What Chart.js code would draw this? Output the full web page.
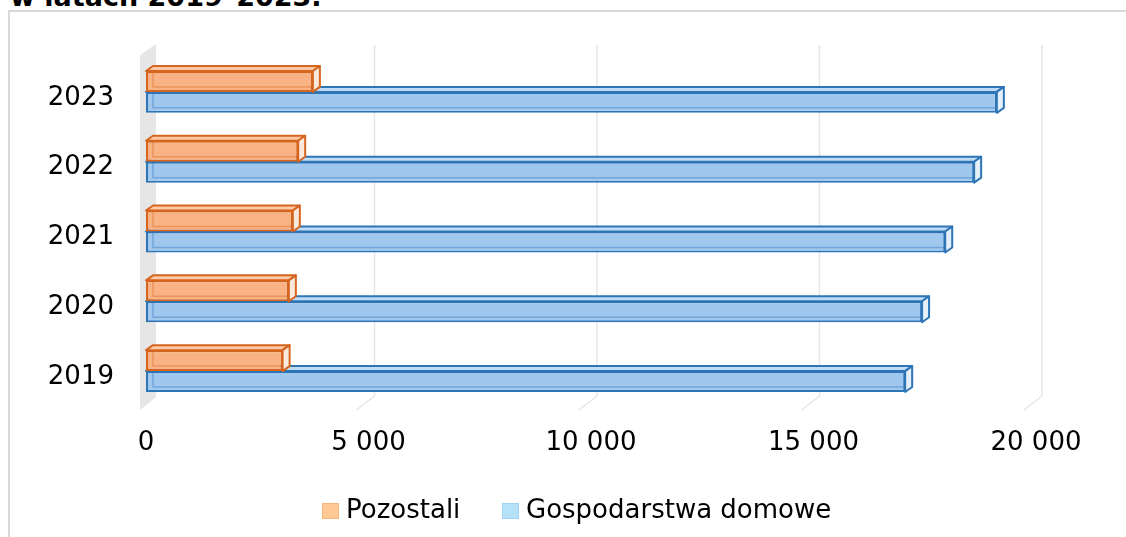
<!DOCTYPE html>
<html>
<head>
<meta charset="utf-8">
<script src="https://cdn.jsdelivr.net/npm/chart.js@4.4.1/dist/chart.umd.min.js"></script>
<style>
  html, body { margin: 0; padding: 0; background: #fff; overflow: hidden; }
  body { width: 1126px; height: 537px; position: relative; font-family: "DejaVu Sans", Verdana, sans-serif; }
  #title { position: absolute; left: 10px; top: -17px; font-size: 27px; line-height: 27px; font-weight: bold; color: #000; white-space: nowrap; }
  #frame { position: absolute; left: 8px; top: 10px; width: 2000px; height: 2000px; border: 2px solid #d9d9d9; }
  #wrap { position: absolute; left: 0; top: 0; width: 1126px; height: 537px; }
  #legend { position: absolute; top: 494px; left: 0; width: 1126px; height: 30px; font-size: 26px; color: #000; }
  .item { position: absolute; top: 0; height: 30px; line-height: 30px; white-space: nowrap; padding-left: 24px; }
  .box { position: absolute; left: 0; top: 9px; width: 15px; height: 14px; border: 1px solid; }
</style>
</head>
<body>
<div id="title">w latach 2019–2023.</div>
<div id="frame"></div>
<div id="wrap"><canvas id="chart" width="1126" height="537"></canvas></div>
<div id="legend"></div>
<script>
const years = ['2019', '2020', '2021', '2022', '2023'];
const pozostali = [3070, 3210, 3300, 3420, 3750];
const gospodarstwa = [17060, 17440, 17960, 18610, 19120];
const xTicks = [0, 5000, 10000, 15000, 20000];

const depthX = 7, depthY = 5;

function fmt(v) {
  return String(v).replace(/\B(?=(\d{3})+(?!\d))/g, ' ');
}

// back wall, floor and grid drawn behind the bars
const backdrop = {
  id: 'backdrop',
  beforeDatasetsDraw(chart) {
    const ctx = chart.ctx;
    const xs = chart.scales.x;
    const area = chart.chartArea;
    ctx.save();
    const x0 = xs.getPixelForValue(0);
    ctx.fillStyle = '#e6e6e6';
    ctx.beginPath();
    ctx.moveTo(x0 - 6, area.top - 2);
    ctx.lineTo(x0 + 10, area.top - 13);
    ctx.lineTo(x0 + 10, area.bottom - 9);
    ctx.lineTo(x0 - 6, area.bottom + 4);
    ctx.closePath();
    ctx.fill();
    ctx.strokeStyle = '#e6e6e6';
    ctx.lineWidth = 1.5;
    xTicks.slice(1).forEach(v => {
      const px = xs.getPixelForValue(v);
      ctx.beginPath();
      ctx.moveTo(px + 6, area.top - 12);
      ctx.lineTo(px + 6, area.bottom - 10);
      ctx.lineTo(px - 12, area.bottom + 4);
      ctx.stroke();
    });
    ctx.restore();
  }
};

// top and side faces for each bar, drawn right after its own dataset
const bars3d = {
  id: 'bars3d',
  afterDatasetDraw(chart, args) {
    const ctx = chart.ctx;
    const ds = chart.data.datasets[args.index];
    ctx.save();
    ctx.lineJoin = 'round';
    args.meta.data.forEach(bar => {
      const {x, y, base, height} = bar.getProps(['x', 'y', 'base', 'height'], true);
      const top = y - height / 2, bottom = y + height / 2;
      ctx.strokeStyle = ds.borderColor;
      // faint back edges seen through the front
      ctx.globalAlpha = 0.4;
      ctx.lineWidth = 1.5;
      ctx.beginPath();
      ctx.moveTo(base + depthX, top - depthY);
      ctx.lineTo(base + depthX, bottom - depthY);
      ctx.lineTo(x + depthX, bottom - depthY);
      ctx.stroke();
      ctx.globalAlpha = 1;
      ctx.lineWidth = 2;
      // top face
      ctx.fillStyle = ds.topColor;
      ctx.beginPath();
      ctx.moveTo(base, top);
      ctx.lineTo(base + depthX, top - depthY);
      ctx.lineTo(x + depthX, top - depthY);
      ctx.lineTo(x, top);
      ctx.closePath();
      ctx.fill();
      ctx.stroke();
      // right face
      ctx.fillStyle = ds.sideColor;
      ctx.beginPath();
      ctx.moveTo(x, top);
      ctx.lineTo(x + depthX, top - depthY);
      ctx.lineTo(x + depthX, bottom - depthY);
      ctx.lineTo(x, bottom);
      ctx.closePath();
      ctx.fill();
      ctx.stroke();
    });
    ctx.restore();
  }
};

const chart = new Chart(document.getElementById('chart'), {
  type: 'bar',
  data: {
    labels: years,
    datasets: [{
      label: 'Pozostali',
      data: pozostali,
      backgroundColor: '#f9b283',
      borderColor: '#d5651f',
      topColor: '#fbc9a5',
      sideColor: '#fbe9dd',
      legendFill: '#ffc996',
      legendBorder: '#f7b57c',
      borderWidth: 2,
      borderSkipped: false
    }, {
      label: 'Gospodarstwa domowe',
      data: gospodarstwa,
      backgroundColor: '#a0c7ee',
      borderColor: '#2e75b6',
      topColor: '#c0dbf5',
      sideColor: '#e6f0fa',
      legendFill: '#b5e1fa',
      legendBorder: '#9dd3f5',
      borderWidth: 2,
      borderSkipped: false
    }]
  },
  options: {
    indexAxis: 'y',
    responsive: false,
    animation: false,
    categoryPercentage: 0.6,
    barPercentage: 1,
    layout: { padding: { top: 57, right: 90, bottom: 71, left: 0 } },
    plugins: {
      legend: { display: false },
      tooltip: { enabled: false }
    },
    scales: {
      x: {
        min: 0,
        max: 20000,
        afterBuildTicks(scale) { scale.ticks = xTicks.map(v => ({ value: v })); },
        afterFit(scale) { scale.height = 60; },
        border: { display: false },
        grid: { display: false, drawTicks: false },
        ticks: {
          padding: 22,
          color: '#000',
          font: { family: 'DejaVu Sans', size: 26 },
          callback: v => fmt(v)
        }
      },
      y: {
        reverse: true,
        afterFit(scale) { scale.width = 146; },
        border: { display: false },
        grid: { display: false, drawTicks: false },
        ticks: {
          padding: 32,
          labelOffset: 6,
          color: '#000',
          font: { family: 'DejaVu Sans', size: 26 }
        }
      }
    }
  },
  plugins: [backdrop, bars3d]
});

// legend built from the chart's datasets
const legendEl = document.getElementById('legend');
const legendLeft = [322, 502];
chart.data.datasets.forEach((ds, i) => {
  const item = document.createElement('div');
  item.className = 'item';
  item.style.left = legendLeft[i] + 'px';
  const box = document.createElement('span');
  box.className = 'box';
  box.style.background = ds.legendFill;
  box.style.borderColor = ds.legendBorder;
  item.appendChild(box);
  item.appendChild(document.createTextNode(ds.label));
  legendEl.appendChild(item);
});
</script>
</body>
</html>
